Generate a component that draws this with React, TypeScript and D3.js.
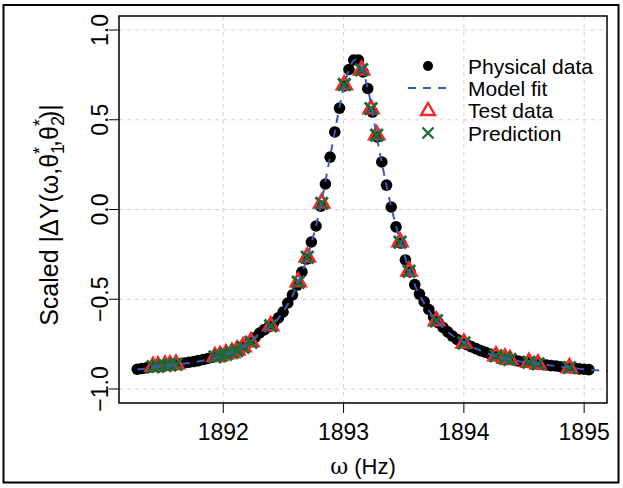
import React from "react";
import * as d3 from "d3";

// ---------- data ----------
const physFreq = [
  1891.285, 1891.324, 1891.363, 1891.402, 1891.441, 1891.481, 1891.52, 1891.559, 1891.598, 1891.637,
  1891.676, 1891.715, 1891.754, 1891.793, 1891.832, 1891.872, 1891.911, 1891.95, 1891.989, 1892.028,
  1892.067, 1892.106, 1892.145, 1892.184, 1892.223, 1892.263, 1892.302, 1892.341, 1892.38, 1892.419,
  1892.458, 1892.497, 1892.536, 1892.575, 1892.614, 1892.654, 1892.693, 1892.732, 1892.771, 1892.81,
  1892.849, 1892.888, 1892.927, 1892.966, 1893.005, 1893.045, 1893.084, 1893.123, 1893.162, 1893.201,
  1893.24, 1893.279, 1893.318, 1893.357, 1893.396, 1893.436, 1893.475, 1893.514, 1893.553, 1893.592,
  1893.631, 1893.67, 1893.709, 1893.748, 1893.787, 1893.827, 1893.866, 1893.905, 1893.944, 1893.983,
  1894.022, 1894.061, 1894.1, 1894.139, 1894.178, 1894.218, 1894.257, 1894.296, 1894.335, 1894.374,
  1894.413, 1894.452, 1894.491, 1894.53, 1894.569, 1894.609, 1894.648, 1894.687, 1894.726, 1894.765,
  1894.804, 1894.843, 1894.882, 1894.921, 1894.96, 1895.0, 1895.039,
];
const physValue = [
  -0.89, -0.886, -0.882, -0.877, -0.874, -0.871, -0.867, -0.865, -0.862, -0.859,
  -0.855, -0.851, -0.847, -0.842, -0.836, -0.83, -0.823, -0.817, -0.811, -0.803,
  -0.797, -0.784, -0.772, -0.756, -0.737, -0.713, -0.688, -0.669, -0.652, -0.63,
  -0.604, -0.571, -0.521, -0.476, -0.421, -0.348, -0.276, -0.181, -0.092, 0.019,
  0.142, 0.292, 0.432, 0.565, 0.688, 0.78, 0.833, 0.833, 0.766, 0.674,
  0.543, 0.404, 0.265, 0.136, 0.014, -0.097, -0.187, -0.281, -0.348, -0.418,
  -0.471, -0.513, -0.557, -0.599, -0.63, -0.657, -0.682, -0.705, -0.724, -0.74,
  -0.752, -0.764, -0.775, -0.786, -0.795, -0.805, -0.815, -0.822, -0.827, -0.833,
  -0.838, -0.844, -0.848, -0.852, -0.856, -0.86, -0.863, -0.866, -0.87, -0.872,
  -0.876, -0.879, -0.881, -0.885, -0.888, -0.89, -0.892,
];

const fitFreq = [
  1891.285, 1891.5, 1891.7, 1891.9, 1892.0, 1892.1, 1892.2, 1892.3, 1892.4, 1892.5,
  1892.6, 1892.7, 1892.8, 1892.9, 1893.0, 1893.05, 1893.1, 1893.15, 1893.2, 1893.3,
  1893.4, 1893.5, 1893.6, 1893.7, 1893.8, 1893.9, 1894.0, 1894.2, 1894.4, 1894.6,
  1894.8, 1895.0, 1895.2,
];
const fitValue = [
  -0.892, -0.872, -0.857, -0.831, -0.812, -0.786, -0.749, -0.69, -0.646, -0.568,
  -0.443, -0.262, -0.008, 0.337, 0.674, 0.788, 0.836, 0.788, 0.677, 0.32,
  0.003, -0.242, -0.432, -0.554, -0.638, -0.699, -0.741, -0.802, -0.838, -0.859,
  -0.875, -0.89, -0.9,
];

const testFreq = [
  1891.416, 1891.457, 1891.515, 1891.557, 1891.607, 1891.931, 1891.973, 1892.022, 1892.072, 1892.114,
  1892.164, 1892.23, 1892.394, 1892.623, 1892.698, 1892.818, 1893.006, 1893.15, 1893.228, 1893.275,
  1893.469, 1893.544, 1893.772, 1894.001, 1894.267, 1894.342, 1894.383, 1894.541, 1894.616, 1894.878,
];
const testValue = [
  -0.875, -0.872, -0.868, -0.866, -0.862, -0.82, -0.814, -0.805, -0.797, -0.784,
  -0.766, -0.738, -0.649, -0.404, -0.265, 0.036, 0.694, 0.777, 0.56, 0.415,
  -0.181, -0.343, -0.621, -0.745, -0.816, -0.829, -0.837, -0.852, -0.861, -0.882,
];
const predValue = [
  -0.876, -0.873, -0.869, -0.866, -0.862, -0.821, -0.815, -0.806, -0.797, -0.785,
  -0.767, -0.739, -0.648, -0.405, -0.266, 0.034, 0.696, 0.779, 0.562, 0.414,
  -0.182, -0.344, -0.62, -0.744, -0.815, -0.828, -0.836, -0.851, -0.86, -0.881,
];

const xTicks = [1892, 1893, 1894, 1895];
const yTicks = [-1.0, -0.5, 0.0, 0.5, 1.0];
const yTickLabels = ["\u22121.0", "\u22120.5", "0.0", "0.5", "1.0"];
const legendLabels = ["Physical data", "Model fit", "Test data", "Prediction"];

// ---------- styling ----------
const W = 623;
const H = 488;
const plot = { left: 119, top: 16, right: 607, bottom: 403 };
const FONT = "'Liberation Sans', Arial, Helvetica, sans-serif";
const RED = "#f0282d";
const GREEN = "#1d6b36";
const BLUE = "#3a5bb8";

function triPath(cx: number, cy: number, r: number) {
  const h = r * 0.866;
  return `M${cx},${cy - r}L${cx + h},${cy + r / 2}L${cx - h},${cy + r / 2}Z`;
}
function crossPath(cx: number, cy: number, r: number) {
  return `M${cx - r},${cy - r}L${cx + r},${cy + r}M${cx - r},${cy + r}L${cx + r},${cy - r}`;
}

export default function App() {
  const x = d3.scaleLinear().domain([1891.133, 1895.19]).range([plot.left, plot.right]);
  const y = d3.scaleLinear().domain([-1.078, 1.078]).range([plot.bottom, plot.top]);

  const fitLine = d3
    .line<number>()
    .x((_, i) => x(fitFreq[i]))
    .y((d) => y(d))
    .curve(d3.curveMonotoneX);

  const legX = 428;
  const legTextX = 468;
  const legY = [66, 88, 110, 133];

  return (
    <svg
      width={W}
      height={H}
      style={{ position: "absolute", left: 0, top: 0, background: "#fff" }}
      fontFamily={FONT}
    >
      <rect x={0} y={0} width={W} height={H} fill="#fff" />
      {/* outer frame */}
      <rect x={3.5} y={5} width={615} height={477.5} fill="none" stroke="#000" strokeWidth={2} />

      <defs>
        <clipPath id="plotclip">
          <rect x={plot.left} y={plot.top} width={plot.right - plot.left} height={plot.bottom - plot.top} />
        </clipPath>
      </defs>

      {/* grid */}
      {xTicks.map((t) => (
        <line
          key={"gx" + t}
          x1={x(t)}
          x2={x(t)}
          y1={plot.top}
          y2={plot.bottom}
          stroke="#d3d3d3"
          strokeWidth={1}
          strokeDasharray="4 4"
        />
      ))}
      {yTicks.map((t) => (
        <line
          key={"gy" + t}
          x1={plot.left}
          x2={plot.right}
          y1={y(t)}
          y2={y(t)}
          stroke="#d3d3d3"
          strokeWidth={1}
          strokeDasharray="4 4"
        />
      ))}

      <g clipPath="url(#plotclip)">
        {/* physical data */}
        {physValue.map((v, i) => (
          <circle key={"p" + i} cx={x(physFreq[i])} cy={y(v)} r={5.8} fill="#000" />
        ))}
        {/* test data */}
        {testValue.map((v, i) => (
          <path
            key={"t" + i}
            d={triPath(x(testFreq[i]), y(v), 8.3)}
            fill="none"
            stroke={RED}
            strokeWidth={2.9}
          />
        ))}
        {/* prediction */}
        {predValue.map((v, i) => (
          <path
            key={"c" + i}
            d={crossPath(x(testFreq[i]), y(v), 6.2)}
            fill="none"
            stroke={GREEN}
            strokeWidth={2.9}
          />
        ))}
        {/* model fit */}
        <path d={fitLine(fitValue) || ""} fill="none" stroke={BLUE} strokeWidth={2} strokeDasharray="8 7" />
      </g>

      {/* plot box */}
      <rect
        x={plot.left}
        y={plot.top}
        width={plot.right - plot.left}
        height={plot.bottom - plot.top}
        fill="none"
        stroke="#000"
        strokeWidth={1.5}
      />

      {/* x axis */}
      {xTicks.map((t) => (
        <g key={"xt" + t}>
          <line x1={x(t)} x2={x(t)} y1={plot.bottom} y2={plot.bottom + 10} stroke="#000" strokeWidth={1} />
          <text x={x(t)} y={440} textAnchor="middle" fontSize={23} fill="#000">
            {t}
          </text>
        </g>
      ))}
      <text x={363} y={474} textAnchor="middle" fontSize={22} fill="#000">
        <tspan fontFamily="'DejaVu Serif', 'Liberation Serif', serif">ω</tspan> (Hz)
      </text>

      {/* y axis */}
      {yTicks.map((t, i) => (
        <g key={"yt" + t}>
          <line x1={plot.left - 10} x2={plot.left} y1={y(t)} y2={y(t)} stroke="#000" strokeWidth={1} />
          <text
            transform={`translate(108,${y(t)}) rotate(-90)`}
            textAnchor="middle"
            fontSize={23}
            fill="#000"
          >
            {yTickLabels[i]}
          </text>
        </g>
      ))}
      <text transform="translate(58,215) rotate(-90)" textAnchor="middle" fontSize={25} fill="#000">
        Scaled |ΔY(ω,θ
        <tspan fontSize={18} dy={6}>1</tspan>
        <tspan fontSize={18} dx={-10} dy={-18}>*</tspan>
        <tspan dy={12}>,θ</tspan>
        <tspan fontSize={18} dy={6}>2</tspan>
        <tspan fontSize={18} dx={-10} dy={-18}>*</tspan>
        <tspan dy={12}>)|</tspan>
      </text>

      {/* legend */}
      <circle cx={legX} cy={legY[0]} r={5} fill="#000" />
      <line x1={legX - 20} x2={legX + 20} y1={legY[1]} y2={legY[1]} stroke={BLUE} strokeWidth={2} strokeDasharray="8 7" />
      <path d={triPath(legX, legY[2] + 1, 8)} fill="none" stroke={RED} strokeWidth={2.4} />
      <path d={crossPath(legX, legY[3], 5.5)} fill="none" stroke={GREEN} strokeWidth={2.4} />
      {legendLabels.map((l, i) => (
        <text key={l} x={legTextX} y={legY[i] + 7.5} fontSize={21} fill="#000">
          {l}
        </text>
      ))}
    </svg>
  );
}
